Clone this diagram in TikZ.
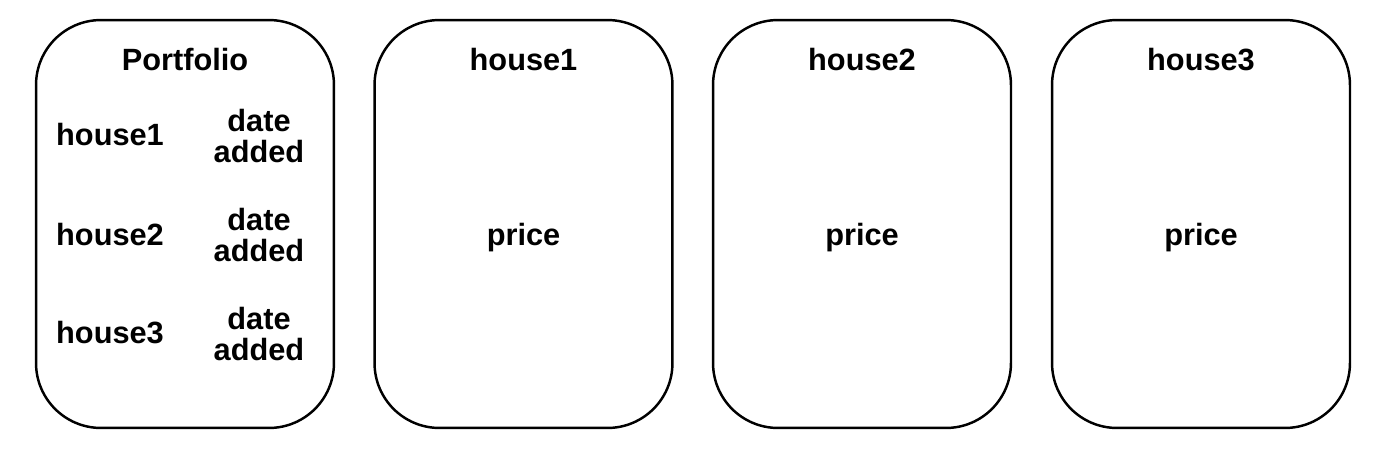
\documentclass[tikz,border=0pt]{standalone}
\usepackage{fontspec}
\setmainfont{Liberation Sans}
\begin{document}
\begin{tikzpicture}[x=0.02cm, y=-0.02cm, font=\fontsize{17.5}{18.2}\selectfont\bfseries,
    card/.style={draw, line width=1.4pt, rounded corners=1.3cm, minimum width=5.96cm, minimum height=8.16cm},
    field/.style={align=center}]
      \useasboundingbox (0,0) rectangle (1400,450);
      \node[card] (portfolio) at (185,224) {};
      \node (ptitle) at (185,60) {Portfolio};
      \node (pkey1) at (110,135) {house1};
      \node[field] (pdate1) at (259,136) {date\\added};
      \node (pkey2) at (110,235) {house2};
      \node[field] (pdate2) at (259,235) {date\\added};
      \node (pkey3) at (110,333) {house3};
      \node[field] (pdate3) at (259,334) {date\\added};
      \node[card] (house1) at (523.5,224) {};
      \node (htitle1) at (523.5,60) {house1};
      \node (hprice1) at (523.5,238) {price};
      \node[card] (house2) at (862,224) {};
      \node (htitle2) at (862,60) {house2};
      \node (hprice2) at (862,238) {price};
      \node[card] (house3) at (1201,224) {};
      \node (htitle3) at (1201,60) {house3};
      \node (hprice3) at (1201,238) {price};
    \end{tikzpicture}
\end{document}
